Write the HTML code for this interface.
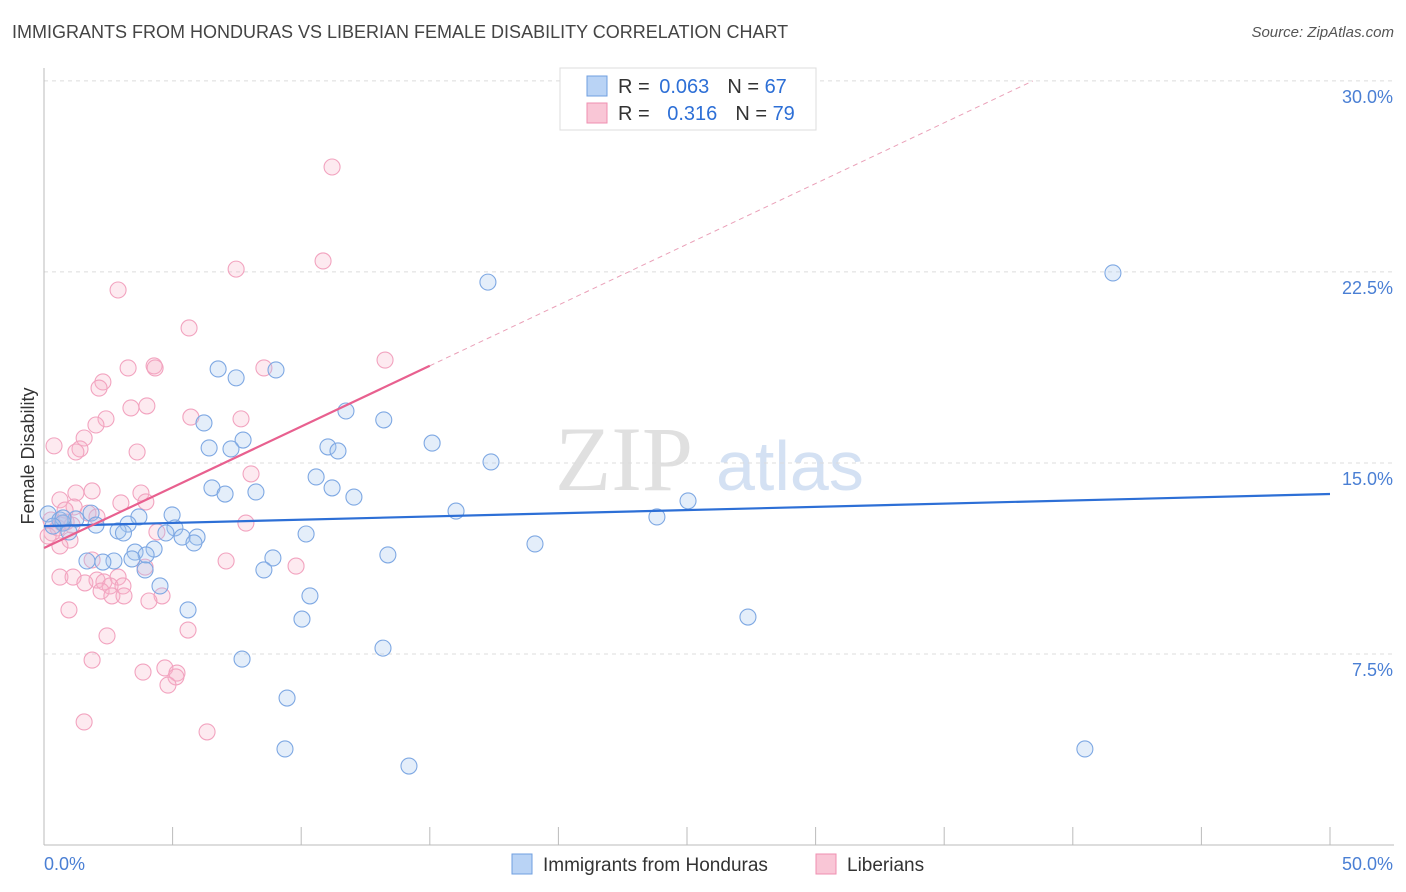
<!DOCTYPE html>
<html><head><meta charset="utf-8"><style>
body{margin:0;background:#fff;font-family:"Liberation Sans",sans-serif;}
#wrap{position:relative;width:1406px;height:892px;overflow:hidden;}
.t{position:absolute;white-space:nowrap;}
</style></head><body>
<div id="wrap">
<div class="t" style="left:12px;top:22px;font-size:18px;color:#444;">IMMIGRANTS FROM HONDURAS VS LIBERIAN FEMALE DISABILITY CORRELATION CHART</div>
<div class="t" style="right:12px;top:24px;font-size:15px;color:#555;font-style:italic;">Source: ZipAtlas.com</div>
<svg id="chart" width="1406" height="892" style="position:absolute;left:0;top:0"></svg>
</div>
<script>
const blueX=[41.56,17.26,6.77,7.47,9.02,11.74,13.21,6.22,15.09,7.74,6.42,7.27,11.04,11.43,17.38,10.58,6.53,7.04,8.24,11.20,12.05,25.04,16.02,23.83,4.98,3.69,1.83,1.24,0.16,0.62,0.74,2.02,3.27,5.09,2.88,3.09,0.97,4.74,5.37,5.95,5.83,10.19,19.09,4.28,3.54,3.97,3.42,1.67,2.72,2.29,8.90,13.37,3.93,8.55,4.51,10.34,5.60,10.03,27.37,7.70,13.18,9.45,9.37,40.47,14.19,0.74,0.35];
const blueY=[22.46,22.10,18.69,18.34,18.65,17.04,16.69,16.57,15.78,15.90,15.59,15.55,15.63,15.47,15.04,14.45,14.02,13.78,13.86,14.02,13.66,13.51,13.11,12.88,12.96,12.88,13.03,12.80,13.00,12.76,12.64,12.56,12.60,12.45,12.33,12.25,12.29,12.25,12.09,12.09,11.86,12.21,11.82,11.62,11.50,11.39,11.23,11.15,11.15,11.11,11.27,11.39,10.80,10.80,10.17,9.78,9.23,8.87,8.95,7.30,7.73,5.77,3.77,3.77,3.10,12.84,12.52];
const pinkX=[11.20,10.85,7.47,2.88,5.64,13.26,4.28,4.32,3.27,8.55,2.29,2.14,4.00,3.38,5.71,7.66,2.41,2.02,1.56,0.39,1.40,1.24,3.62,8.05,1.87,1.24,3.77,2.99,3.96,0.62,1.17,0.82,1.71,2.06,0.27,0.86,0.54,7.85,4.39,0.31,0.16,1.01,0.62,3.93,7.08,9.80,1.87,0.62,1.13,2.06,2.33,2.88,1.59,2.57,3.07,2.22,2.64,3.11,4.59,4.08,0.97,5.60,2.45,1.87,4.70,3.85,5.17,5.13,4.82,1.56,6.34,0.70,1.09];
const pinkY=[26.62,22.93,22.61,21.79,20.30,19.04,18.81,18.73,18.73,18.73,18.18,17.94,17.24,17.16,16.80,16.73,16.73,16.49,15.98,15.67,15.55,15.43,15.43,14.57,13.90,13.82,13.82,13.43,13.47,13.55,13.27,13.15,13.03,12.88,12.76,12.68,12.45,12.64,12.29,12.25,12.13,11.97,11.74,10.91,11.15,10.95,11.19,10.52,10.52,10.40,10.33,10.52,10.29,10.17,10.17,9.97,9.78,9.78,9.78,9.58,9.23,8.44,8.21,7.26,6.95,6.79,6.75,6.60,6.28,4.83,4.44,12.64,12.56];
const yTicks=[7.5,15.0,22.5,30.0];
const yTickLabels=["7.5%","15.0%","22.5%","30.0%"];
const blueFit=[12.52,13.78];
const pinkFit=[11.66,0.477];

const X0=44,X1=1330,Y0=845,PX=(X1-X0)/50,PY=25.47;
const xs=v=>X0+v*PX, ys=v=>Y0-v*PY;
const svg=document.getElementById('chart');
const NS='http://www.w3.org/2000/svg';
function mk(tag,at,parent){const e=document.createElementNS(NS,tag);for(const k in at)e.setAttribute(k,at[k]);(parent||svg).appendChild(e);return e;}

let wm=mk('text',{x:555,y:490,'font-size':92,'font-family':'Liberation Serif, serif',fill:'#e0e0e0'});wm.textContent='ZIP';


let wm2=mk('text',{x:716,y:490,'font-size':70,'font-family':'Liberation Sans, sans-serif',fill:'#d4e1f3'});wm2.textContent='atlas';



yTicks.forEach((v,i)=>{
 const g=mk('line',{x1:X0,x2:1394,y1:ys(v),y2:ys(v),stroke:'#dcdcdc','stroke-dasharray':'4,4'});
 
 
 const t=mk('text',{x:1393,y:ys(v)+22,'text-anchor':'end','font-size':18,fill:'#4a7fd4'});t.textContent=yTickLabels[i];
 
 
});
let ax=mk('line',{x1:X0,x2:X0,y1:68,y2:Y0,stroke:'#bbb'});


let bx=mk('line',{x1:X0,x2:1394,y1:Y0,y2:Y0,stroke:'#bbb'});


for(let i=0;i<=10;i++){const tk=mk('line',{x1:xs(i*5),x2:xs(i*5),y1:Y0,y2:Y0-18,stroke:'#bbb'});
 
 }
let xl=mk('text',{x:44,y:870,'font-size':18,fill:'#4a7fd4'});xl.textContent='0.0%';


let xr=mk('text',{x:1393,y:870,'text-anchor':'end','font-size':18,fill:'#4a7fd4'});xr.textContent='50.0%';


let yt=mk('text',{x:34,y:456,'font-size':18,fill:'#333','text-anchor':'middle',transform:'rotate(-90 34 456)'});yt.textContent='Female Disability';



function dots(X,Y,fill,stroke,name){X.forEach((x,i)=>{const c=mk('circle',{cx:xs(x),cy:ys(Y[i]),r:8,fill:fill,stroke:stroke,'stroke-width':1.1});
 
 });}
dots(pinkX,pinkY,'rgba(248,180,202,0.28)','#f2a3bf','liberians-point');
dots(blueX,blueY,'rgba(165,198,240,0.3)','#7ea8e3','honduras-point');

let bl=mk('line',{x1:xs(0),y1:ys(blueFit[0]),x2:xs(50),y2:ys(blueFit[1]),stroke:'#2d6fd6','stroke-width':2.2});


let pl=mk('line',{x1:xs(0),y1:ys(pinkFit[0]),x2:xs(15),y2:ys(pinkFit[0]+15*pinkFit[1]),stroke:'#e8608f','stroke-width':2.2});


const xe=(30-pinkFit[0])/pinkFit[1];
let pd=mk('line',{x1:xs(15),y1:ys(pinkFit[0]+15*pinkFit[1]),x2:xs(xe),y2:ys(30),stroke:'#eaa0b8','stroke-width':1,'stroke-dasharray':'5,4'});



let lb=mk('rect',{x:560,y:68,width:256,height:62,fill:'#fff',stroke:'#ddd'});


[['#b9d3f5','#6f9fe0','0.063','67',86],['#f9c6d6','#ef8fb0','0.316','79',113]].forEach((r,i)=>{
 const s=mk('rect',{x:587,y:r[4]-10,width:20,height:20,fill:r[0],stroke:r[1]});
 
 
 const t=mk('text',{x:618,y:r[4]+7,'font-size':20,fill:'#333'});
 t.innerHTML='R = <tspan fill="#2d6fd6" dx="'+(i?12:4)+'">'+r[2]+'</tspan><tspan dx="18">N = </tspan><tspan fill="#2d6fd6">'+r[3]+'</tspan>';
 
 
});
[[512,'#b9d3f5','#6f9fe0','Immigrants from Honduras'],[816,'#f9c6d6','#ef8fb0','Liberians']].forEach(r=>{
 const s=mk('rect',{x:r[0],y:854,width:20,height:20,fill:r[1],stroke:r[2]});
 
 
 const t=mk('text',{x:r[0]+31,y:871,'font-size':19,fill:'#333'});t.textContent=r[3];
 
 
});
</script>
</body></html>
